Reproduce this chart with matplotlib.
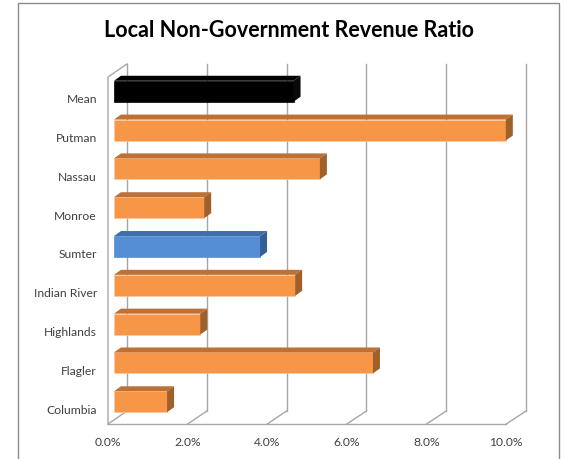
import matplotlib
matplotlib.use("Agg")
import matplotlib.pyplot as plt
from matplotlib.patches import Polygon, Rectangle

categories = ["Mean", "Putman", "Nassau", "Monroe", "Sumter", "Indian River",
              "Highlands", "Flagler", "Columbia"]
values = [4.50, 9.82, 5.16, 2.26, 3.66, 4.54, 2.16, 6.49, 1.33]   # percent
xticks = [0, 2, 4, 6, 8, 10]
xtick_labels = ["0.0%", "2.0%", "4.0%", "6.0%", "8.0%", "10.0%"]
title = "Local Non-Government Revenue Ratio"

front_colors = {"Mean": "#000000", "Sumter": "#558ED5"}
top_colors = {"Mean": "#000000", "Sumter": "#3F6FAA"}
side_colors = {"Mean": "#0a0a0a", "Sumter": "#34609A"}
FRONT, TOP, SIDE = "#F79646", "#BE7035", "#A0602A"

plt.rcParams['font.family'] = ['Lato', 'DejaVu Sans']

W, H = 564, 460
fig = plt.figure(figsize=(W / 100, H / 100), dpi=100)

# axes in bar-front plane (pixels)
ax_l, ax_r, ax_t, ax_b = 114, 513, 74, 421
ax = fig.add_axes([ax_l / W, 1 - ax_b / H, (ax_r - ax_l) / W, (ax_b - ax_t) / H])
n = len(categories)
ylo, yhi = -0.47, n - 1 + 0.47
ax.set_xlim(0, 10)
ax.set_ylim(yhi, ylo)
ax.axis("off")

pxx = (ax_r - ax_l) / 10.0
pxy = (ax_b - ax_t) / (yhi - ylo)


def off(dx_px, dy_px_up):
    return dx_px / pxx, -dy_px_up / pxy


grid_c = "#A6A6A6"
bdx, bdy = off(13, 9)      # back wall offset
fdx, fdy = off(-6, -4)     # front floor edge offset

# back wall gridlines
for t in xticks:
    ax.plot([t + bdx, t + bdx], [ylo + bdy, yhi + bdy], color=grid_c, lw=1.0,
            clip_on=False, zorder=1)
    ax.plot([t + bdx, t * 0.998 + fdx], [yhi + bdy, yhi + fdy], color=grid_c,
            lw=1.0, clip_on=False, zorder=1)
# floor front edge
ax.plot([0 + fdx, 10 * 0.998 + fdx], [yhi + fdy, yhi + fdy], color=grid_c, lw=1.0,
        clip_on=False, zorder=1)
# left wall
ax.plot([fdx, fdx, bdx], [yhi + fdy, ylo + fdy, ylo + bdy], color=grid_c, lw=1.0,
        clip_on=False, zorder=1)

# bars
h = 0.54
ddx, ddy = off(7, 5)
for i, (c, v) in enumerate(zip(categories, values)):
    fc = front_colors.get(c, FRONT)
    tc = top_colors.get(c, TOP)
    sc = side_colors.get(c, SIDE)
    y0, y1 = i - h / 2, i + h / 2
    ax.barh(i, v, height=h, color=fc, edgecolor="#FBC9A0" if c not in front_colors else fc,
            lw=0.5, zorder=3, clip_on=False)
    ax.add_patch(Polygon([(0, y0), (v, y0), (v + ddx, y0 + ddy), (ddx, y0 + ddy)],
                         closed=True, facecolor=tc, edgecolor="none", zorder=3,
                         clip_on=False))
    ax.add_patch(Polygon([(v, y0), (v + ddx, y0 + ddy), (v + ddx, y1 + ddy), (v, y1)],
                         closed=True, facecolor=sc, edgecolor="none", zorder=3,
                         clip_on=False))
    ax.annotate(c, xy=(0, i), xytext=(-17, -7.5), textcoords="offset pixels",
                ha="right", va="center", fontsize=8.7, color="#404040")

for t, lab in zip(xticks, xtick_labels):
    ax.annotate(lab, xy=(t * 0.998, yhi), xytext=(-6, -22), textcoords="offset pixels",
                ha="center", va="center", fontsize=8.7, color="#404040")

fig.text(289 / W, 1 - 31 / H, title, ha="center", va="center", fontsize=15.5,
         fontweight="bold", color="#000000")

fig.patches.append(Rectangle((18 / W, -0.02), (559 - 18) / W, 1.02 - 4 / H,
                             transform=fig.transFigure, fill=False,
                             edgecolor="#8C8C8C", lw=1.0))

fig.savefig("out.png", dpi=100)
